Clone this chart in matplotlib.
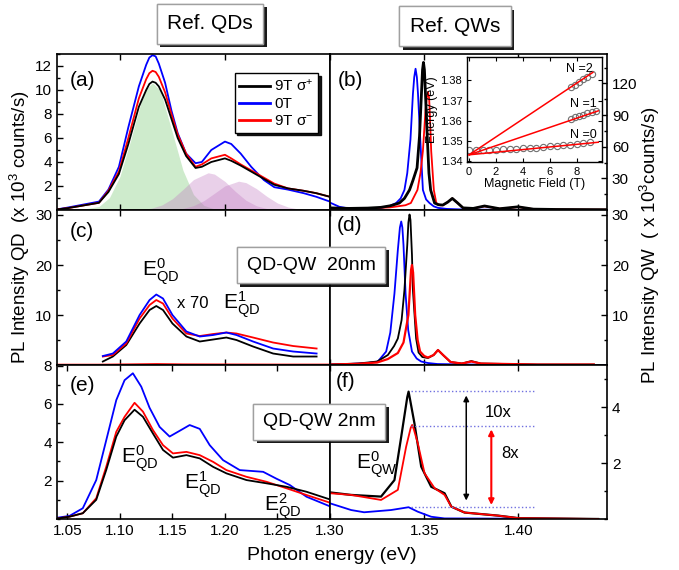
import matplotlib
matplotlib.use("Agg")
import matplotlib.pyplot as plt
import matplotlib.patheffects as pe
from matplotlib.ticker import MultipleLocator
from matplotlib.lines import Line2D

plt.rcParams["font.family"] = ["Liberation Sans", "DejaVu Sans"]
plt.rcParams["mathtext.fontset"] = "custom"
plt.rcParams["mathtext.rm"] = "Liberation Sans"
plt.rcParams["mathtext.it"] = "Liberation Sans:italic"
plt.rcParams["mathtext.default"] = "regular"

# === (a) Ref. QDs ===
a_x = [1.040, 1.050, 1.080, 1.089, 1.099, 1.108, 1.118, 1.125, 1.128, 1.131, 1.134, 1.137, 1.143, 1.149,
       1.155, 1.163, 1.172, 1.178, 1.187, 1.200, 1.206, 1.215, 1.225, 1.237, 1.247,
       1.260, 1.275, 1.287, 1.300]
a_blue = [0.05, 0.2, 0.7, 1.7, 3.6, 6.9, 10.3, 12.1, 12.7, 12.9, 12.8, 12.2, 10.6, 8.3,
          6.4, 4.7, 3.9, 4.0, 5.0, 5.7, 5.5, 4.7, 3.6, 2.5, 1.9,
          1.7, 1.4, 1.1, 0.7]
a_red = [0.05, 0.15, 0.6, 1.6, 3.2, 6.0, 9.3, 10.9, 11.4, 11.6, 11.5, 11.1, 9.8, 8.0,
         6.3, 4.7, 3.6, 3.8, 4.3, 4.6, 4.3, 3.8, 3.3, 2.7, 2.2,
         1.8, 1.6, 1.4, 1.1]
a_black = [0.05, 0.15, 0.6, 1.5, 3.0, 5.5, 8.6, 10.0, 10.5, 10.7, 10.6, 10.3, 9.2, 7.6,
           6.0, 4.5, 3.5, 3.6, 4.0, 4.3, 4.1, 3.7, 3.2, 2.6, 2.1,
           1.8, 1.6, 1.4, 1.1]

# fitted gaussian components
g0_x = [1.06, 1.08, 1.09, 1.10, 1.11, 1.12, 1.125, 1.131, 1.137, 1.14, 1.15, 1.16, 1.17, 1.18, 1.19, 1.20, 1.21]
g0_y = [0.01, 0.29, 1.03, 2.80, 5.75, 8.97, 10.08, 10.6, 10.08, 9.48, 6.43, 3.31, 1.29, 0.38, 0.09, 0.01, 0.0]
g1_x = [1.11, 1.12, 1.13, 1.14, 1.15, 1.16, 1.17, 1.184, 1.19, 1.20, 1.21, 1.22, 1.23, 1.24, 1.25, 1.26]
g1_y = [0.0, 0.05, 0.15, 0.42, 0.94, 1.71, 2.53, 3.1, 2.99, 2.38, 1.54, 0.81, 0.35, 0.12, 0.03, 0.0]
g2_x = [1.14, 1.15, 1.16, 1.17, 1.18, 1.19, 1.20, 1.213, 1.22, 1.23, 1.24, 1.25, 1.26, 1.27, 1.28, 1.29]
g2_y = [0.0, 0.04, 0.13, 0.36, 0.78, 1.39, 2.01, 2.4, 2.28, 1.78, 1.13, 0.58, 0.25, 0.08, 0.02, 0.0]

# === (b) Ref. QWs ===
b_blue_x = [1.300, 1.305, 1.310, 1.320, 1.327, 1.332, 1.3351, 1.3375, 1.3395, 1.341, 1.3427, 1.344,
            1.3447, 1.3454, 1.3461, 1.3467, 1.3479, 1.3493, 1.351, 1.3528, 1.355, 1.3573, 1.362,
            1.370, 1.380, 1.400, 1.447]
b_blue = [7.0, 3.0, 1.5, 1.0, 2.0, 4.0, 6.6, 11, 19, 35, 67, 110,
          126, 134, 126, 110, 67, 19, 10, 6.6, 3.5, 2.0, 1.0,
          0.5, 0.3, 0.1, 0.0]
b_black_x = [1.300, 1.310, 1.320, 1.327, 1.332, 1.3368, 1.3395, 1.3422, 1.344, 1.3462, 1.3475, 1.3487,
             1.3491, 1.3496, 1.3501, 1.3505, 1.3516, 1.3525, 1.3534, 1.3555, 1.3575, 1.3599, 1.3625,
             1.3649, 1.3675, 1.3706, 1.376, 1.382, 1.390, 1.3998, 1.408, 1.420, 1.447]
b_black = [2.0, 1.5, 1.8, 2.5, 4.0, 6.6, 11, 19, 28, 40, 70, 117,
           133, 140, 133, 117, 70, 35, 19, 6.6, 5.0, 4.7, 7.5,
           11, 7, 2.0, 1.5, 3.8, 1.2, 3.0, 0.8, 0.5, 0.3]
b_red_x = [1.300, 1.320, 1.332, 1.3400, 1.3429, 1.3464, 1.348, 1.3493, 1.3507, 1.3514, 1.352, 1.3526,
           1.3530, 1.3537, 1.3551, 1.3564, 1.3585, 1.3599, 1.3625, 1.3649, 1.3675, 1.3706, 1.376,
           1.382, 1.390, 1.3998, 1.408, 1.420, 1.447]
b_red = [1.5, 1.5, 2.5, 4.5, 6.6, 19, 35, 56, 95, 107, 112, 106,
         90, 56, 19, 6.6, 4.5, 4.5, 7.5, 11, 7, 2.0, 1.5,
         3.5, 1.2, 2.8, 0.8, 0.5, 0.3]

# inset: Landau levels
B_n0 = [0, 0.5, 1, 1.5, 2, 2.5, 3, 3.5, 4, 4.5, 5, 5.5, 6, 6.5, 7, 7.5, 8, 8.5, 9]
E_n0 = [1.3455, 1.3455, 1.3456, 1.3457, 1.3458, 1.3459, 1.3461, 1.3462, 1.3464, 1.3466,
        1.3468, 1.3470, 1.3473, 1.3476, 1.3479, 1.3482, 1.3485, 1.3489, 1.3493]
B_n1 = [7.6, 7.9, 8.2, 8.5, 8.8, 9.1, 9.4]
E_n1 = [1.3610, 1.3617, 1.3623, 1.3630, 1.3636, 1.3642, 1.3648]
B_n2 = [7.6, 7.9, 8.2, 8.5, 8.8, 9.1]
E_n2 = [1.3765, 1.3778, 1.3791, 1.3805, 1.3818, 1.3831]
fit_B = [[0, 9.6], [0, 9.6], [0, 9.2]]
fit_E = [[1.3432, 1.3494], [1.3432, 1.3649], [1.3432, 1.3839]]
n_labels = ["N =0", "N =1", "N =2"]

# === (c) QD-QW 20nm, QD part (x70) ===
c_x = [1.0837, 1.0932, 1.106, 1.1187, 1.1282, 1.1346, 1.141, 1.150, 1.1633, 1.176, 1.1887,
       1.2014, 1.211, 1.2268, 1.2459, 1.265, 1.2873]
c_blue = [1.8, 2.3, 4.7, 10.0, 13.0, 14.1, 13.3, 10.0, 6.7, 5.7, 6.0,
          6.5, 6.0, 4.7, 3.3, 2.7, 2.3]
c_red = [1.7, 2.0, 4.3, 9.3, 12.0, 13.0, 12.3, 9.3, 6.3, 5.8, 6.2,
         6.5, 6.3, 5.5, 4.5, 3.8, 3.3]
c_black = [0.7, 1.7, 4.0, 8.3, 11.0, 11.8, 11.0, 8.3, 5.7, 4.7, 5.1,
           5.5, 5.0, 3.7, 2.3, 1.7, 1.7]
c_raw_x = [1.040, 1.080, 1.110, 1.135, 1.160, 1.200, 1.250, 1.300]
c_raw = [0.08, 0.08, 0.14, 0.2, 0.14, 0.12, 0.1, 0.1]

# === (d) QD-QW 20nm, QW part ===
d_blue_x = [1.300, 1.310, 1.320, 1.3254, 1.3298, 1.332, 1.3342, 1.336, 1.3371, 1.3378, 1.3384, 1.339,
            1.3401, 1.3415, 1.3435, 1.346, 1.3484, 1.352, 1.357, 1.365, 1.375, 1.390, 1.447]
d_blue = [0.1, 0.2, 0.4, 0.7, 2.7, 6.5, 14.3, 23, 27.5, 28.7, 27.5, 24,
          14.3, 7, 2.7, 1.3, 0.7, 0.4, 0.2, 0.15, 0.1, 0.05, 0.0]
d_black_x = [1.300, 1.315, 1.325, 1.3307, 1.334, 1.336, 1.338, 1.3395, 1.341, 1.3416, 1.3422, 1.3427,
             1.3435, 1.344, 1.3457, 1.347, 1.349, 1.352, 1.355, 1.3573, 1.360, 1.364, 1.370,
             1.375, 1.380, 1.395, 1.410, 1.440]
d_black = [0.1, 0.3, 0.7, 2.0, 3.8, 5.3, 9, 15, 24, 28.5, 30.1, 29,
           22, 15, 5.3, 2.5, 1.6, 1.4, 2.0, 3.0, 2.0, 0.6, 0.3,
           0.8, 0.3, 0.2, 0.1, 0.1]
d_red_x = [1.300, 1.315, 1.325, 1.3307, 1.336, 1.339, 1.3416, 1.3430, 1.3435, 1.3441, 1.3452, 1.3465,
           1.3478, 1.350, 1.352, 1.355, 1.3573, 1.360, 1.364, 1.370, 1.375, 1.380, 1.395, 1.410, 1.440]
d_red = [0.1, 0.25, 0.5, 1.2, 2.4, 4.5, 10, 19, 20, 18.5, 10, 5,
         2.7, 1.8, 1.5, 2.0, 3.0, 2.0, 0.6, 0.3, 0.7, 0.3, 0.2, 0.1, 0.1]

# === (e) QD-QW 2nm, QD part ===
e_x = [1.0408, 1.0519, 1.0646, 1.0774, 1.0869, 1.0965, 1.1044, 1.1123, 1.1203, 1.1282, 1.1378,
       1.1473, 1.1569, 1.1664, 1.176, 1.1855, 1.1982, 1.2141, 1.2364, 1.2491, 1.2618, 1.2777, 1.300]
e_blue = [0.07, 0.16, 0.56, 2.03, 4.1, 6.2, 7.24, 7.6, 6.9, 5.8, 4.8,
          4.3, 4.6, 4.9, 4.7, 3.85, 3.07, 2.55, 2.46, 2.1, 1.77, 1.16, 0.66]
e_black_x = [1.0408, 1.0519, 1.0646, 1.0774, 1.0869, 1.0965, 1.1044, 1.1139, 1.1219, 1.1314, 1.141,
             1.1505, 1.1633, 1.176, 1.1887, 1.2014, 1.2205, 1.2396, 1.2587, 1.2777, 1.300]
e_black = [0.03, 0.12, 0.3, 1.0, 2.55, 4.3, 5.15, 5.7, 5.33, 4.46, 3.6,
           3.2, 3.33, 3.16, 2.72, 2.38, 2.03, 1.86, 1.68, 1.42, 1.02]
e_red = [0.03, 0.12, 0.3, 1.08, 2.72, 4.55, 5.33, 6.06, 5.6, 4.64, 3.85,
         3.42, 3.5, 3.33, 2.98, 2.55, 2.2, 1.94, 1.6, 1.25, 0.85]

# === (f) QD-QW 2nm, QW part ===
f_x = [1.300, 1.3112, 1.3271, 1.3342, 1.3378, 1.3410, 1.3417, 1.3424, 1.3448, 1.3484, 1.3537, 1.3608,
       1.3644, 1.3714, 1.3892, 1.400, 1.4423]
f_black = [0.95, 0.86, 0.8, 1.39, 2.94, 4.35, 4.55, 4.3, 3.42, 1.87, 1.15, 0.92,
           0.44, 0.23, 0.12, 0.03, 0.0]
f_red_x = [1.300, 1.3112, 1.3271, 1.336, 1.3404, 1.3428, 1.3436, 1.3445, 1.3466, 1.3502, 1.3555, 1.3608,
           1.3644, 1.3714, 1.3892, 1.400, 1.4423]
f_red = [0.92, 0.86, 0.68, 1.04, 2.58, 3.25, 3.36, 3.2, 2.7, 1.63, 1.1, 0.86,
         0.44, 0.23, 0.12, 0.03, 0.0]
f_blue_x = [1.300, 1.3112, 1.3181, 1.3324, 1.3417, 1.3466, 1.3537, 1.3608, 1.4423]
f_blue = [0.56, 0.32, 0.24, 0.32, 0.42, 0.26, 0.08, 0.02, 0.0]
f_levels = [4.58, 3.32, 0.42]

fig = plt.figure(figsize=(6.79, 5.70), dpi=100)

LX, LW = 0.0839, 0.4020
RX, RW = 0.4860, 0.4080
rows = [(0.6316, 0.2737), (0.3596, 0.2720), (0.0895, 0.2701)]


def style(ax, side, bottom_labels):
    for s in ax.spines.values():
        s.set_linewidth(1.2)
    ax.tick_params(which="both", direction="in", top=True, bottom=True,
                   left=(side == "left"), right=(side == "right"),
                   labelleft=(side == "left"), labelright=(side == "right"),
                   labelbottom=bottom_labels, labelsize=11, width=1)
    ax.tick_params(which="major", length=4)
    ax.tick_params(which="minor", length=2)


axes = {}
for i, (y0, h) in enumerate(rows):
    axes["L", i] = fig.add_axes([LX, y0, LW, h])
    axes["R", i] = fig.add_axes([RX, y0, RW, h])

lw = 1.3

# (a)
ax = axes["L", 0]
ax.fill_between(g0_x, g0_y, color="#9ed89a", alpha=0.5, lw=0)
ax.fill_between(g1_x, g1_y, color="#c27ac2", alpha=0.35, lw=0)
ax.fill_between(g2_x, g2_y, color="#c27ac2", alpha=0.35, lw=0)
ax.plot(a_x, a_blue, color="blue", lw=lw)
ax.plot(a_x, a_red, color="red", lw=lw)
ax.plot(a_x, a_black, color="black", lw=lw)
ax.set_xlim(1.04, 1.30)
ax.set_ylim(0, 13)
ax.set_yticks([2, 4, 6, 8, 10, 12])
ax.yaxis.set_minor_locator(MultipleLocator(1))
style(ax, "left", False)
handles = [Line2D([], [], color="black", lw=2), Line2D([], [], color="blue", lw=2),
           Line2D([], [], color="red", lw=2)]
ax.legend(handles, ["9T σ$^{+}$", "0T", "9T σ$^{-}$"], loc="upper right",
          bbox_to_anchor=(0.985, 0.925), fancybox=False, edgecolor="black",
          shadow={"color": "black", "alpha": 0.9}, framealpha=1, fontsize=11,
          handlelength=2.0, handletextpad=0.3, borderpad=0.3, labelspacing=0.2)
ax.text(0.095, 0.83, "(a)", transform=ax.transAxes, fontsize=15, ha="center", va="center")

# (b)
ax = axes["R", 0]
ax.plot(b_blue_x, b_blue, color="blue", lw=lw)
ax.plot(b_red_x, b_red, color="red", lw=lw)
ax.plot(b_black_x, b_black, color="black", lw=2.0)
ax.set_xlim(1.30, 1.447)
ax.set_ylim(0, 148)
ax.set_yticks([30, 60, 90, 120])
ax.yaxis.set_minor_locator(MultipleLocator(15))
ax.set_xticks([1.30, 1.35, 1.40])
style(ax, "right", False)
ax.text(0.072, 0.83, "(b)", transform=ax.transAxes, fontsize=15, ha="center", va="center")

# (c)
ax = axes["L", 1]
ax.plot(c_raw_x, c_raw, color="red", lw=lw)
ax.plot(c_x, c_black, color="black", lw=lw)
ax.plot(c_x, c_red, color="red", lw=lw)
ax.plot(c_x, c_blue, color="blue", lw=lw)
ax.set_xlim(1.04, 1.30)
ax.set_ylim(0, 31)
ax.set_yticks([10, 20, 30])
ax.yaxis.set_minor_locator(MultipleLocator(5))
style(ax, "left", False)
ax.text(0.09, 0.86, "(c)", transform=ax.transAxes, fontsize=15, ha="center", va="center")
ax.text(1.139, 18.7, r"$E^{0}_{QD}$", fontsize=15, ha="center", va="center")
ax.text(1.1696, 12.3, "x 70", fontsize=12, ha="center", va="center")
ax.text(1.2157, 12.0, r"$E^{1}_{QD}$", fontsize=15, ha="center", va="center")

# (d)
ax = axes["R", 1]
ax.plot(d_blue_x, d_blue, color="blue", lw=lw)
ax.plot(d_black_x, d_black, color="black", lw=lw)
ax.plot(d_red_x, d_red, color="red", lw=1.6)
ax.set_xlim(1.30, 1.447)
ax.set_ylim(0, 31)
ax.set_yticks([10, 20, 30])
ax.yaxis.set_minor_locator(MultipleLocator(5))
ax.set_xticks([1.30, 1.35, 1.40])
style(ax, "right", False)
ax.text(0.072, 0.9, "(d)", transform=ax.transAxes, fontsize=15, ha="center", va="center")

# (e)
ax = axes["L", 2]
ax.plot(e_x, e_blue, color="blue", lw=lw)
ax.plot(e_black_x, e_red, color="red", lw=lw)
ax.plot(e_black_x, e_black, color="black", lw=lw)
ax.set_xlim(1.04, 1.30)
ax.set_ylim(0, 8.03)
ax.set_yticks([2, 4, 6, 8])
ax.yaxis.set_minor_locator(MultipleLocator(1))
ax.set_xticks([1.05, 1.10, 1.15, 1.20, 1.25])
ax.set_xticklabels(["1.05", "1.10", "1.15", "1.20", "1.25"])
style(ax, "left", True)
ax.text(0.095, 0.87, "(e)", transform=ax.transAxes, fontsize=15, ha="center", va="center")
ax.text(1.1187, 3.16, r"$E^{0}_{QD}$", fontsize=15, ha="center", va="center")
ax.text(1.1791, 1.77, r"$E^{1}_{QD}$", fontsize=15, ha="center", va="center")
ax.text(1.2554, 0.64, r"$E^{2}_{QD}$", fontsize=15, ha="center", va="center")

# (f)
ax = axes["R", 2]
ax.plot(f_blue_x, f_blue, color="blue", lw=lw)
ax.plot(f_x, f_black, color="black", lw=1.6)
ax.plot(f_red_x, f_red, color="red", lw=lw)
ax.hlines(f_levels, 1.343, 1.408, colors="#7070e0", linestyles=":", lw=1)
ax.annotate("", xy=(1.3723, 4.51), xytext=(1.3723, 0.56),
            arrowprops=dict(arrowstyle="<|-|>", color="black", lw=1.1, mutation_scale=8))
ax.annotate("", xy=(1.3856, 3.30), xytext=(1.3856, 0.40),
            arrowprops=dict(arrowstyle="<|-|>", color="red", lw=1.5, mutation_scale=8))
ax.text(1.3892, 3.80, "10x", fontsize=12, ha="center", va="center")
ax.text(1.3954, 2.35, "8x", fontsize=12, ha="center", va="center")
ax.text(1.325, 1.95, r"$E^{0}_{QW}$", fontsize=15, ha="center", va="center")
ax.set_xlim(1.30, 1.447)
ax.set_ylim(0, 5.5)
ax.set_yticks([2, 4])
ax.yaxis.set_minor_locator(MultipleLocator(1))
ax.set_xticks([1.30, 1.35, 1.40])
ax.set_xticklabels(["1.30", "1.35", "1.40"])
style(ax, "right", True)
ax.text(0.055, 0.89, "(f)", transform=ax.transAxes, fontsize=15, ha="center", va="center")

# inset in (b)
ins = fig.add_axes([0.688, 0.716, 0.199, 0.184])
ins.set_facecolor("white")
for bb, ee in zip(fit_B, fit_E):
    ins.plot(bb, ee, color="red", lw=1.1, zorder=3)
for bb, ee in [(B_n0, E_n0), (B_n1, E_n1), (B_n2, E_n2)]:
    ins.plot(bb, ee, "o", mfc="none", mec="#707070", ms=4.5, mew=0.8, zorder=2)
ins.text(8.5, 1.3531, n_labels[0], fontsize=9, ha="center", va="center")
ins.text(8.5, 1.3685, n_labels[1], fontsize=9, ha="center", va="center")
ins.text(8.2, 1.3855, n_labels[2], fontsize=9, ha="center", va="center")
ins.set_xlim(-0.15, 9.9)
ins.set_ylim(1.3397, 1.3915)
ins.set_xticks([0, 2, 4, 6, 8])
ins.set_yticks([1.34, 1.35, 1.36, 1.37, 1.38])
ins.tick_params(direction="in", top=True, right=True, labelsize=8, length=3, width=0.8)
ins.set_xlabel("Magnetic Field (T)", fontsize=9, labelpad=1)
ins.set_ylabel("Energy (eV)", fontsize=9, labelpad=2)
for s in ins.spines.values():
    s.set_linewidth(1.0)

# titles and boxes with dark drop shadow
def shadow_box(x, y, txt, size):
    t = fig.text(x, y, txt, fontsize=size, ha="center", va="center", zorder=10,
                 bbox=dict(boxstyle="square,pad=0.5", fc="white", ec="#a0a0a0", lw=1))
    t.get_bbox_patch().set_path_effects(
        [pe.withSimplePatchShadow(offset=(2.5, -2.5), shadow_rgbFace="black", alpha=0.9),
         pe.Normal()])
    return t

shadow_box(0.309, 0.958, "Ref. QDs", 15)
shadow_box(0.670, 0.954, "Ref. QWs", 15)
shadow_box(0.458, 0.535, "QD-QW  20nm", 14)
shadow_box(0.470, 0.260, "QD-QW 2nm", 14)

fig.text(0.029, 0.602, r"PL Intensity QD  (x 10$^{3}$ counts/s)", rotation=90,
         fontsize=13.5, ha="center", va="center")
fig.text(0.957, 0.570, r"PL Intensity QW  ( x 10$^{3}$counts/s)", rotation=90,
         fontsize=13.5, ha="center", va="center")
fig.text(0.489, 0.026, "Photon energy (eV)", fontsize=14, ha="center", va="center")

fig.savefig("out.png", dpi=100)
